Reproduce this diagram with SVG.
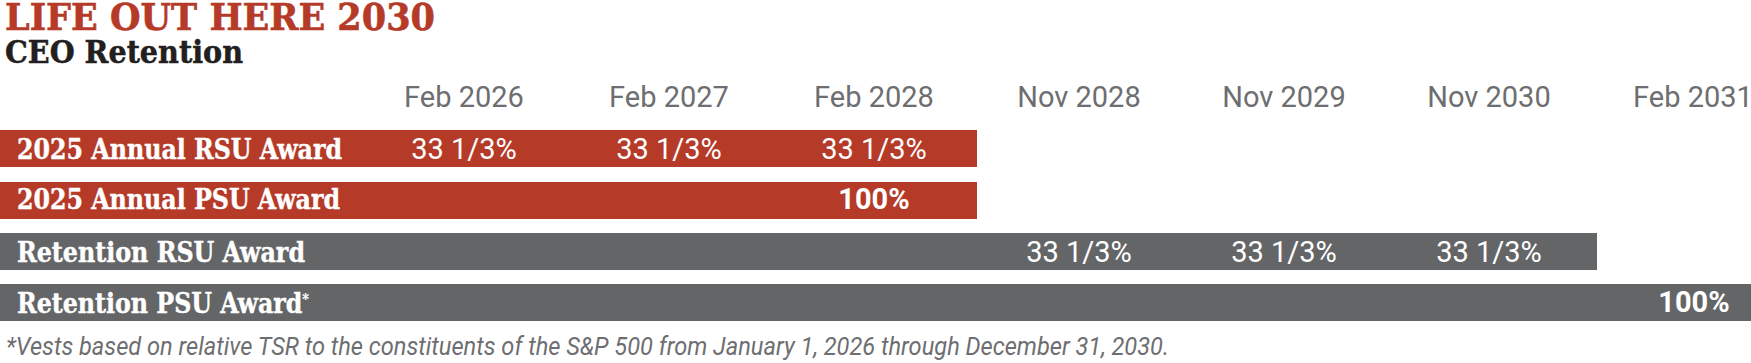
<svg xmlns="http://www.w3.org/2000/svg" width="1751" height="363" viewBox="0 0 1751 363">
  <style>
    .title { font-family: "DejaVu Serif", "Liberation Serif", serif; font-weight: bold; font-size: 37px; fill: #b53a28; stroke: #b53a28; stroke-width: 0.6px; }
    .sub { font-family: "DejaVu Serif", "Liberation Serif", serif; font-weight: bold; font-size: 31px; fill: #231f20; stroke: #231f20; stroke-width: 0.5px; }
    .hdr { font-family: Roboto, "Liberation Sans", sans-serif; font-size: 29px; fill: #6d6e71; text-anchor: middle; }
    .lbl { font-family: "DejaVu Serif", "Liberation Serif", serif; font-weight: bold; font-stretch: condensed; font-size: 28px; fill: #ffffff; stroke: #ffffff; stroke-width: 0.4px; }
    .val { font-family: Roboto, "Liberation Sans", sans-serif; font-size: 29px; fill: #ffffff; text-anchor: middle; }
    .valb { font-family: Roboto, "Liberation Sans", sans-serif; font-weight: bold; font-size: 29px; fill: #ffffff; text-anchor: middle; }
    .sup { font-size: 15px; stroke-width: 0.2px; }
    .note { font-family: Roboto, "Liberation Sans", sans-serif; font-style: italic; font-size: 25px; fill: #6d6e71; }
    .red { fill: #b53a28; }
    .gray { fill: #646567; }
  </style>

  <g id="heading">
    <text class="title" x="5" y="30" textLength="430" lengthAdjust="spacingAndGlyphs">LIFE OUT HERE 2030</text>
    <text class="sub" x="5" y="63" textLength="238" lengthAdjust="spacingAndGlyphs">CEO Retention</text>
  </g>

  <g id="column-headers">
    <text class="hdr" x="464" y="107">Feb 2026</text>
    <text class="hdr" x="669" y="107">Feb 2027</text>
    <text class="hdr" x="874" y="107">Feb 2028</text>
    <text class="hdr" x="1079" y="107">Nov 2028</text>
    <text class="hdr" x="1284" y="107">Nov 2029</text>
    <text class="hdr" x="1489" y="107">Nov 2030</text>
    <text class="hdr" x="1693" y="107">Feb 2031</text>
  </g>

  <g id="annual-rsu">
    <rect class="red" x="0" y="130" width="977" height="37"/>
    <text class="lbl" x="17" y="159" textLength="325" lengthAdjust="spacingAndGlyphs">2025 Annual RSU Award</text>
    <text class="val" x="464" y="159">33 1/3%</text>
    <text class="val" x="669" y="159">33 1/3%</text>
    <text class="val" x="874" y="159">33 1/3%</text>
  </g>

  <g id="annual-psu">
    <rect class="red" x="0" y="182" width="977" height="37"/>
    <text class="lbl" x="17" y="209" textLength="323" lengthAdjust="spacingAndGlyphs">2025 Annual PSU Award</text>
    <text class="valb" x="874" y="209">100%</text>
  </g>

  <g id="retention-rsu">
    <rect class="gray" x="0" y="233" width="1597" height="37"/>
    <text class="lbl" x="17" y="262" textLength="288" lengthAdjust="spacingAndGlyphs">Retention RSU Award</text>
    <text class="val" x="1079" y="262">33 1/3%</text>
    <text class="val" x="1284" y="262">33 1/3%</text>
    <text class="val" x="1489" y="262">33 1/3%</text>
  </g>

  <g id="retention-psu">
    <rect class="gray" x="0" y="284" width="1751" height="37"/>
    <text class="lbl" x="17" y="313" textLength="292" lengthAdjust="spacingAndGlyphs">Retention PSU Award<tspan class="sup" dy="-9">*</tspan></text>
    <text class="valb" x="1694" y="312">100%</text>
  </g>

  <g id="footnote">
    <text class="note" x="6" y="355" textLength="1163" lengthAdjust="spacingAndGlyphs">*Vests based on relative TSR to the constituents of the S&amp;P 500 from January 1, 2026 through December 31, 2030.</text>
  </g>
</svg>
